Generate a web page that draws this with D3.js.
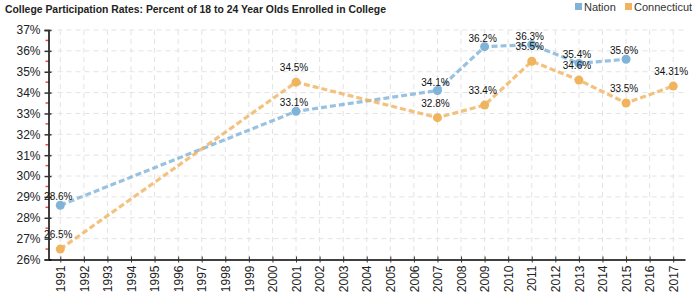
<!DOCTYPE html>
<html><head><meta charset="utf-8">
<script src="https://cdn.jsdelivr.net/npm/d3@7"></script>
<style>body{margin:0;background:#fff;font-family:Arial,"Liberation Sans",sans-serif;}</style>
</head><body><svg id="c" width="700" height="300"></svg>
<script>
const years = ["1991","1992","1993","1994","1995","1996","1997","1998","1999","2000","2001","2002","2003","2004","2005","2006","2007","2008","2009","2010","2011","2012","2013","2014","2015","2016","2017"];
const nationYears = ["1991","2001","2007","2009","2011","2013","2015"];
const nationValues = [28.6,33.1,34.1,36.2,36.3,35.4,35.6];
const nationLabels = ["28.6%","33.1%","34.1%","36.2%","36.3%","35.4%","35.6%"];
const ctYears = ["1991","2001","2007","2009","2011","2013","2015","2017"];
const ctValues = [26.5,34.5,32.8,33.4,35.5,34.6,33.5,34.31];
const ctLabels = ["26.5%","34.5%","32.8%","33.4%","35.5%","34.6%","33.5%","34.31%"];
const yTicks = [26,27,28,29,30,31,32,33,34,35,36,37];
const title = "College Participation Rates: Percent of 18 to 24 Year Olds Enrolled in College";
const seriesNames = ["Nation","Connecticut"];

(function(){
const svg = d3.select("#c");
const L = 48.5, R = 685, T = 30, B = 259.5;
const x = d3.scalePoint().domain(years).range([L, R]).padding(0.5);
const y = d3.scaleLinear().domain([26,37]).range([B, T]);
const blue = "#7fb3d8", orange = "#f0b35e";

const g = svg.append("g");
g.selectAll(".vg").data(years).join("line")
  .attr("x1", d=>x(d)).attr("x2", d=>x(d)).attr("y1", T).attr("y2", B)
  .attr("stroke","#e3e3e3").attr("stroke-dasharray","5,4");
g.selectAll(".hg").data(yTicks.slice(1)).join("line")
  .attr("x1", L).attr("x2", R).attr("y1", d=>y(d)).attr("y2", d=>y(d))
  .attr("stroke","#e3e3e3").attr("stroke-dasharray","5,4");

const halves = yTicks.slice(0,-1).map(v=>v+0.5);
g.selectAll(".mt").data(halves).join("line")
  .attr("x1", L-3).attr("x2", L).attr("y1", d=>y(d)).attr("y2", d=>y(d))
  .attr("stroke","#e84c4c").attr("stroke-width",1.5);

const ya = svg.append("g").attr("transform",`translate(${L},0)`)
  .call(d3.axisLeft(y).tickValues(yTicks).tickFormat(d=>d+"%").tickSize(4).tickPadding(4));
ya.select(".domain").attr("stroke","#000").attr("stroke-width",1.5);
ya.selectAll(".tick line").attr("x2",3).attr("x1",-4).attr("stroke","#333").attr("stroke-width",1.5);
ya.selectAll("text").attr("font-size",12).attr("font-family","Arial").attr("fill","#222");

const xa = svg.append("g").attr("transform",`translate(0,${B})`)
  .call(d3.axisBottom(x).tickSize(4).tickSizeOuter(0));
xa.select(".domain").attr("stroke","#000").attr("stroke-width",1.5);
xa.selectAll(".tick line").attr("y1",-3).attr("y2",3).attr("stroke","#333");
xa.selectAll("text").attr("font-size",12).attr("font-family","Arial").attr("fill","#222")
  .attr("transform","rotate(-90)").attr("text-anchor","end").attr("x",-6).attr("y",0).attr("dy","0.35em");

function drawSeries(ys, vals, labels, color){
  const data = ys.map((d,i)=>({yr:d,v:vals[i],l:labels[i]}));
  svg.append("path").datum(data)
    .attr("d", d3.line().x(d=>x(d.yr)).y(d=>y(d.v)))
    .attr("fill","none").attr("stroke",color).attr("stroke-width",3.2)
    .attr("stroke-dasharray","6,3").attr("opacity",0.8);
  svg.append("g").selectAll("circle").data(data).join("circle")
    .attr("cx", d=>x(d.yr)).attr("cy", d=>y(d.v)).attr("r",4.5).attr("fill",color);
  return data;
}
const nd = drawSeries(nationYears, nationValues, nationLabels, blue);
const cd = drawSeries(ctYears, ctValues, ctLabels, orange);
function drawLabels(data, off){
  svg.append("g").selectAll("text").data(data).join("text")
    .attr("x", d=>x(d.yr)-2).attr("y", d=>y(d.v)-off)
    .attr("text-anchor","middle").attr("font-size",10).attr("font-family","Arial")
    .attr("fill","#111").text(d=>d.l);
}
drawLabels(nd, 5);
drawLabels(cd, 11);

svg.append("text").attr("x",5).attr("y",13).attr("font-size",10.4).attr("font-weight","bold")
  .attr("font-family","Arial").attr("fill","#222").text(title);

const lg = svg.append("g");
const lx = [575, 625];
[blue, orange].forEach((c,i)=>{
  lg.append("rect").attr("x",lx[i]).attr("y",3).attr("width",7).attr("height",7).attr("fill",c);
  lg.append("text").attr("x",lx[i]+9).attr("y",10.5).attr("font-size",11).attr("font-family","Arial")
    .attr("fill","#333").text(seriesNames[i]);
});
})();
</script></body></html>
